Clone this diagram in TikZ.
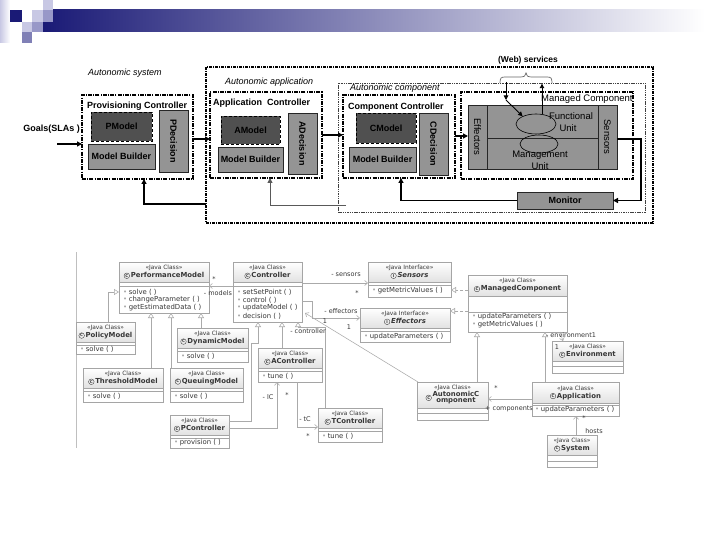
\documentclass[tikz,border=0pt]{standalone}
\usepackage{fontspec}
\setmainfont{Liberation Sans}
\newfontfamily\umlf{DejaVu Sans}
\usetikzlibrary{arrows.meta,shapes.geometric}
\definecolor{navyb}{RGB}{26,26,118}
\definecolor{bandmid}{RGB}{150,150,182}
\definecolor{sqA}{RGB}{200,200,228}
\definecolor{sqB}{RGB}{152,152,200}
\definecolor{sqC}{RGB}{128,128,182}
\definecolor{gdark}{RGB}{80,80,80}
\definecolor{gmid}{RGB}{148,148,148}
\definecolor{ubd}{RGB}{165,165,165}
\definecolor{hdrc}{RGB}{226,226,226}
\definecolor{utx}{RGB}{55,55,55}
\definecolor{uln}{RGB}{170,170,170}

\newcommand\rbox[7]{\node[#1,anchor=north west,inner sep=0pt,outer sep=0pt,minimum width={(#5-#3)*1pt},minimum height={(#6-#4)*1pt}] (#2) at (#3,#4) {#7};}
\newcommand\ico[1]{\tikz[baseline=-0.6ex]\node[circle,draw=utx,line width=0.35pt,inner sep=0pt,minimum size=5.6pt,font=\umlf\fontsize{3.9}{3.9}\selectfont\bfseries]{#1};}
\newcommand\cname[1]{{\fontsize{6.9}{8}\selectfont\bfseries #1}}
\newcommand\iname[1]{{\fontsize{6.9}{8}\selectfont\bfseries\itshape #1}}
\newcommand\mbul{{\color{uln}\textbullet}\kern1.5pt}
\newcommand\ucls[8]{%
 \fill[white] (#2,#3) rectangle (#4,#5);
 \shade[top color=white,bottom color=hdrc] (#2,#3) rectangle (#4,#6);
 \node[anchor=north west,inner sep=0pt,outer sep=0pt,draw=ubd,line width=0.5pt,minimum width={(#4-#2)*1pt},minimum height={(#5-#3)*1pt}] (#1) at (#2,#3) {};
 \draw[ubd,line width=0.4pt] (#2,#6) -- (#4,#6) (#2,#7) -- (#4,#7);
 \node[hdr] at ({(#2+#4)/2},{(#3+#6)/2}) {#8};}

\begin{document}
\begin{tikzpicture}[x=1pt,y=-1pt,
  cont/.style={draw,line width=1.4pt,dash pattern=on 4pt off 1.2pt on 1pt off 1.2pt},
  appc/.style={draw,line width=1.1pt,dash pattern=on 3pt off 1pt on 1pt off 1pt},
  compc/.style={draw=black!75,line width=0.8pt,dash pattern=on 1.5pt off 0.8pt},
  dkbox/.style={fill=gdark,draw=black,densely dashed,line width=0.8pt,font=\bfseries\fontsize{9}{10}\selectfont},
  mdbox/.style={fill=gmid,draw=black!85,line width=0.5pt,font=\bfseries\fontsize{9}{10}\selectfont},
  ttl/.style={inner sep=0pt,font=\bfseries\fontsize{9}{10}\selectfont},
  reg/.style={inner sep=0pt,font=\fontsize{9.5}{10.5}\selectfont},
  ital/.style={inner sep=0pt,font=\itshape\fontsize{9}{10}\selectfont},
  flow/.style={line width=1.3pt,-{Triangle[length=5pt,width=5pt]}},
  hdr/.style={align=center,inner sep=0pt,text=utx,font=\umlf\fontsize{5.9}{8}\selectfont},
  meth/.style={anchor=west,inner sep=0pt,text=utx,font=\umlf\fontsize{6.9}{7.5}\selectfont},
  lbl/.style={inner sep=0pt,text=utx,font=\umlf\fontsize{6.5}{7.5}\selectfont},
  uline/.style={draw=uln,line width=0.55pt},
  assoc/.style={uline,-{Straight Barb[length=3pt,width=5pt]}},
  gen/.style={uline,-{Triangle[open,length=5pt,width=6pt,fill=white]}},
  real/.style={gen,densely dashed}]
\useasboundingbox (0,0) rectangle (720,540);
\fill[white] (0,0) rectangle (720,540);

% ---- slide decoration ----
\shade[left color=sqA,right color=white] (0,0) rectangle (10,43);
\shade[left color=navyb,middle color=bandmid,right color=white] (43,10) rectangle (705,32);
\fill[navyb] (10,10) rectangle (22,22);
\fill[sqA] (43,0) rectangle (53,10);
\fill[sqA] (32,10) rectangle (43,22);
\fill[sqB] (43,10) rectangle (53,22);
\fill[sqA] (22,22) rectangle (32,32);
\fill[sqB] (32,22) rectangle (43,32);
\fill[sqC] (22,32) rectangle (32,43);

% ---- top diagram: containers ----
\rbox{appc}{aapp}{206}{67}{653}{223}{}
\rbox{compc}{acomp}{338}{83}{645}{212}{}
\node[ital,anchor=west] (lsys) at (88,73) {Autonomic system};
\node[ital,anchor=west] (lapp) at (225,82) {Autonomic application};
\node[ital,anchor=west] (lcomp) at (350,88) {Autonomic component};

% provisioning controller
\rbox{cont}{pc}{82}{95}{193}{179}{}
\node[ttl,anchor=west] (tpc) at (87,106) {Provisioning Controller};
\rbox{dkbox}{pmod}{91}{112}{152}{141}{PModel}
\rbox{mdbox}{pmb}{88}{144}{155}{169}{Model Builder}
\rbox{mdbox}{pdec}{159}{110}{188}{172}{}
\node[ttl,rotate=-90] at (pdec.center) {PDecision};

% application controller
\rbox{cont}{ac}{210}{92}{322}{178}{}
\node[ttl,anchor=west] (tac) at (213,103) {Application\ \ Controller};
\rbox{dkbox}{amod}{221}{116}{280}{144}{AModel}
\rbox{mdbox}{amb}{218}{147}{283}{172}{Model Builder}
\rbox{mdbox}{adec}{288}{113}{317}{174}{}
\node[ttl,rotate=-90] at (adec.center) {ADecision};

% component controller
\rbox{cont}{cc}{343}{95}{455}{178}{}
\node[ttl,anchor=west] (tcc) at (348,107) {Component Controller};
\rbox{dkbox}{cmod}{356}{113}{416}{143}{CModel}
\rbox{mdbox}{cmb}{349}{147}{416}{172}{Model Builder}
\rbox{mdbox}{cdec}{419}{113}{448}{175}{}
\node[ttl,rotate=-90] at (cdec.center) {CDecision};

% managed component
\rbox{cont}{mcomp}{461}{92}{633}{179}{}
\node[reg,anchor=west] (tmc) at (541,99) {Managed Component};
\rbox{mdbox}{effc}{468}{105}{487}{169}{}
\rbox{mdbox}{senc}{598}{105}{617}{169}{}
\rbox{mdbox}{fu}{487}{105}{598}{138}{}
\rbox{mdbox}{mu}{487}{138}{598}{169}{}
\node[reg,rotate=-90] at (effc.center) {Effectors};
\node[reg,rotate=-90] at (senc.center) {Sensors};
\node[ellipse,draw,line width=0.6pt,minimum width=40pt,minimum height=20pt,inner sep=0pt] (el1) at (536,124) {};
\node[ellipse,draw,line width=0.6pt,minimum width=38pt,minimum height=18pt,inner sep=0pt] (el2) at (539,144) {};
\node[reg] at (571,116) {Functional};
\node[reg] at (568,128) {Unit};
\node[reg] at (540,155) {Management};
\node[reg] at (540,166) {Unit};

% monitor
\rbox{mdbox}{mon}{517}{192}{613}{209}{Monitor}

% web services
\node[ttl,font=\bfseries\fontsize{8.5}{9.5}\selectfont] (web) at (528,60) {(Web) services};
\draw[black!60,line width=0.7pt] (500,83) .. controls (500,78) and (501,77) .. (505,77) -- (520,77) .. controls (524,77) and (526,76) .. (526,73) .. controls (526,76) and (528,77) .. (532,77) -- (547,77) .. controls (551,77) and (552,78) .. (552,83);
\coordinate (wl) at (506,82);
\coordinate (wm) at (506,100);
\draw[line width=0.9pt,-{Triangle[length=4.5pt,width=4.5pt]}] (wl) -- (wm);
\draw[line width=0.9pt,-{Triangle[length=4.5pt,width=4.5pt]}] (wm) -- (el1.150);
\draw[line width=0.9pt,-{Triangle[length=4.5pt,width=4.5pt]}] ([xshift=6pt]el1.north) -- ++(0,-30);

% flow arrows
\node[ttl,anchor=east] (goals) at (80,129) {Goals(SLAs )};
\draw[flow] ([yshift=-49pt,xshift=-25pt]pc.north west) -- ([yshift=-49pt]pc.north west);
\draw[flow] ([yshift=-44pt]pc.north east) -- ([yshift=-47pt]ac.north west);
\draw[flow] ([yshift=-43pt]ac.north east) -- ([yshift=-40pt]cc.north west);
\draw[flow] ([yshift=-41pt]cc.north east) -- ([yshift=-31pt]effc.north west);
\draw[flow] ([yshift=-34pt]senc.north east) -- ++(24,0) |- (mon.east);
\draw[flow] (mon.west) -| ([xshift=58pt]cc.south west);
\draw[flow] ([yshift=19pt]aapp.south west) -| ([xshift=62pt]pc.south west);
\coordinate (afb) at (346,206);
\draw[line width=1pt,black!65,-{Triangle[length=5pt,width=5pt]}] (afb) -| ([xshift=60pt]ac.south west);

% ---- bottom UML diagram ----
\draw[black!25,line width=0.8pt] (76.5,252) -- (76.5,448);

\ucls{pm}{119}{262}{209}{313}{282}{286}{«Java Class»\\\ico{C}\,\cname{PerformanceModel}}
\node[meth] at (123,292) {\mbul solve ( )};
\node[meth] at (123,300) {\mbul changeParameter ( )};
\node[meth] at (123,308) {\mbul getEstimatedData ( )};

\ucls{ctl}{233}{262}{302}{322}{282}{286}{«Java Class»\\\ico{C}\,\cname{Controller}}
\node[meth] at (237,292) {\mbul setSetPoint ( )};
\node[meth] at (237,300) {\mbul control ( )};
\node[meth] at (237,308) {\mbul updateModel ( )};
\node[meth] at (237,316) {\mbul decision ( )};

\ucls{sen}{368}{262}{451}{297}{282}{285}{«Java Interface»\\\ico{I}\,\iname{Sensors}}
\node[meth] at (372,291) {\mbul getMetricValues ( )};

\ucls{eff}{360}{308}{450}{342}{328}{331}{«Java Interface»\\\ico{I}\,\iname{Effectors}}
\node[meth] at (364,337) {\mbul updateParameters ( )};

\ucls{mc}{468}{275}{567}{332}{296}{312}{«Java Class»\\\ico{C}\,\cname{ManagedComponent}}
\node[meth] at (472,317) {\mbul updateParameters ( )};
\node[meth] at (472,325) {\mbul getMetricValues ( )};

\ucls{pol}{76}{322}{135}{354}{342}{345}{«Java Class»\\\ico{C}\,\cname{PolicyModel}}
\node[meth] at (80,349) {\mbul solve ( )};

\ucls{dyn}{177}{328}{248}{362}{348}{351}{«Java Class»\\\ico{C}\,\cname{DynamicModel}}
\node[meth] at (181,356) {\mbul solve ( )};

\ucls{act}{258}{348}{322}{382}{368}{371}{«Java Class»\\\ico{C}\,\cname{AController}}
\node[meth] at (262,376) {\mbul tune ( )};

\ucls{thr}{83}{368}{163}{402}{388}{391}{«Java Class»\\\ico{C}\,\cname{ThresholdModel}}
\node[meth] at (87,396) {\mbul solve ( )};

\ucls{que}{170}{368}{243}{402}{388}{391}{«Java Class»\\\ico{C}\,\cname{QueuingModel}}
\node[meth] at (174,396) {\mbul solve ( )};

\ucls{pct}{170}{415}{229}{448}{435}{438}{«Java Class»\\\ico{C}\,\cname{PController}}
\node[meth] at (174,443) {\mbul provision ( )};

\ucls{tct}{318}{408}{382}{442}{428}{431}{«Java Class»\\\ico{C}\,\cname{TController}}
\node[meth] at (322,436) {\mbul tune ( )};

\ucls{auc}{417}{382}{488}{420}{408}{413}{«Java Class»\\\ico{C}\,\begin{tabular}{@{}c@{}}\cname{AutonomicC}\\[-2pt]\cname{omponent}\end{tabular}}

\ucls{app}{532}{382}{619}{416}{403}{405}{«Java Class»\\\ico{C}\,\cname{Application}}
\node[meth] at (535,410) {\mbul updateParameters ( )};

\ucls{env}{552}{341}{623}{373}{361}{366}{«Java Class»\\\ico{C}\,\cname{Environment}}
\ucls{sys}{547}{435}{597}{467}{455}{461}{«Java Class»\\\ico{C}\,\cname{System}}

% associations
\draw[assoc] ([yshift=-24pt]ctl.north west) -- ([yshift=-24pt]pm.north east);
\draw[assoc] ([yshift=-21pt]ctl.north east) -- ([yshift=-21pt]sen.north west);
\draw[assoc] ([yshift=-39pt]ctl.north east) -- ++(10,0) |- ([yshift=-10pt]eff.north west);
\draw[assoc] ([xshift=1pt]auc.north west) -- ([xshift=3pt,yshift=-51pt]ctl.north east);
\draw[assoc] ([yshift=-13pt]pct.north east) -| ([xshift=19pt]act.south west);
\draw[assoc] ([xshift=39pt]act.south west) |- ([yshift=-19pt]tct.north west);
\draw[assoc] ([xshift=29pt]sys.north west) -- ([xshift=44pt]app.south west);
\draw[assoc] ([yshift=-17pt]app.north west) -- ([yshift=-17pt]auc.north east);
\draw[assoc] ([xshift=-7pt]mc.south east) -- ([xshift=11pt]env.north west);
% generalizations
\draw[gen] ([xshift=32pt]pol.north west) |- ([yshift=-30pt]pm.north west);
\draw[gen] ([xshift=68pt]thr.north west) -- ([xshift=32pt]pm.south west);
\draw[gen] ([xshift=1pt]que.north west) -- ([xshift=52pt]pm.south west);
\draw[gen] ([xshift=24pt]dyn.north west) -- ([xshift=82pt]pm.south west);
\draw[gen] ([yshift=-6pt]pct.north east) -- ++(22,0) -- ++(0,-78) -- ++(7,0) -- ([xshift=25pt]ctl.south west);
\draw[gen] ([xshift=24pt]act.north west) -- ([xshift=49pt]ctl.south west);
\draw[gen] ([xshift=7pt]tct.north west) -- ++(0,-81) -- ++(-27,0) -- ([xshift=65pt]ctl.south west);
\draw[gen] ([xshift=60pt]auc.north west) -- ([xshift=9pt]mc.south west);
\draw[gen] ([xshift=13pt]app.north west) -- ([xshift=77pt]mc.south west);
\draw[real] ([yshift=-15pt]mc.north west) -- ([yshift=-28pt]sen.north east);
\draw[real] ([yshift=-36pt]mc.north west) -- ([yshift=-3pt]eff.north east);

% labels
\node[lbl] at (214,279) {*};
\node[lbl] at (218,293) {- models};
\node[lbl] at (346,275) {- sensors};
\node[lbl] at (357,293) {*};
\node[lbl] at (341,311) {- effectors};
\node[lbl] at (325,321) {1};
\node[lbl] at (349,327) {1};
\node[lbl] at (308,331) {- controller};
\node[lbl] at (268,397) {- lC};
\node[lbl] at (287,395) {*};
\node[lbl] at (305,419) {- tC};
\node[lbl] at (308,436) {*};
\node[lbl] at (584,418) {*};
\node[lbl] at (594,431) {hosts};
\node[lbl] at (496,388) {*};
\node[lbl] at (509,409) {+ components};
\node[lbl] at (571,335) {- environment1};
\node[lbl] at (557,347) {1};
\end{tikzpicture}
\end{document}
